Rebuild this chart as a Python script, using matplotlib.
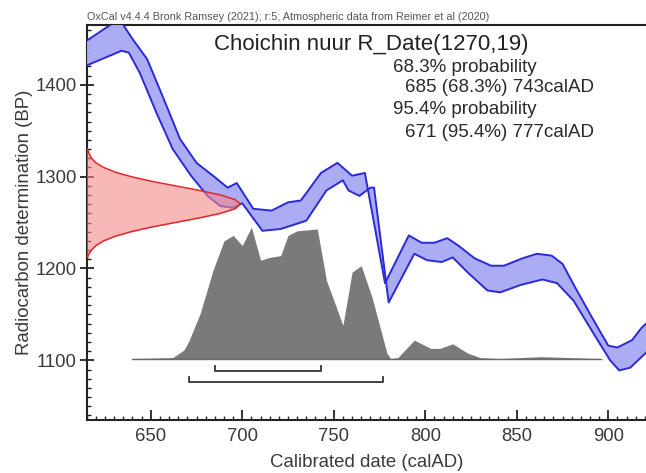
import matplotlib
matplotlib.use("Agg")
import matplotlib.pyplot as plt
from matplotlib.ticker import MultipleLocator

plt.rcParams['font.family'] = ['Liberation Sans', 'DejaVu Sans']

# calibration curve (IntCal20, 1 sigma envelope)
cal_x_hi = [615, 630, 634, 640, 648, 657, 666, 675, 684, 692, 697, 706, 716, 725,
            732, 743, 752, 760, 767, 778, 791, 798, 805, 812, 818, 827, 836, 843,
            853, 861, 869, 875, 882, 891, 900, 905, 913, 918, 925]
cal_y_hi = [1448, 1468, 1468, 1450, 1428, 1385, 1341, 1315, 1301, 1288, 1293, 1265,
            1263, 1272, 1274, 1304, 1315, 1301, 1304, 1184, 1236, 1228, 1228, 1233,
            1225, 1211, 1203, 1203, 1211, 1216, 1214, 1205, 1179, 1147, 1116, 1114,
            1122, 1135, 1148]
cal_x_lo = [615, 634, 638, 644, 653, 662, 672, 681, 688, 695, 700, 711, 721, 735,
            746, 755, 758, 764, 770, 772, 780, 794, 801, 809, 815, 823, 834, 841,
            852, 864, 872, 881, 892, 901, 906, 912, 921, 925]
cal_y_lo = [1421, 1437, 1435, 1413, 1370, 1330, 1301, 1279, 1268, 1266, 1271, 1241,
            1243, 1252, 1285, 1296, 1285, 1279, 1288, 1288, 1163, 1216, 1209, 1207,
            1212, 1196, 1176, 1174, 1182, 1188, 1184, 1165, 1129, 1100, 1089, 1092,
            1109, 1115]

# radiocarbon measurement R_Date(1270,19), drawn against the y axis
rc_bp = [1212, 1215, 1220, 1225, 1230, 1235, 1240, 1245, 1250, 1255, 1260, 1265,
         1270, 1275, 1280, 1285, 1290, 1295, 1300, 1305, 1310, 1315, 1320, 1325, 1330]
rc_width = [0.5, 0.9, 2.6, 5.1, 9.2, 15.4, 24.2, 35.3, 48.3, 61.5, 73.1, 81.1,
            84, 81.1, 73.1, 61.5, 48.3, 35.3, 24.2, 15.4, 9.2, 5.1, 2.6, 1.3, 0.5]

# calibrated probability distribution
prob_x = [640, 662, 668, 670, 671, 677, 684, 690, 695, 700, 705, 710, 715, 721,
          725, 730, 741, 746, 755, 760, 765, 771, 779, 781, 785, 794, 803, 808,
          815, 823, 830, 841, 852, 863, 879, 896]
prob_y = [1102, 1103, 1111, 1118, 1122, 1151, 1198, 1230, 1236, 1225, 1245, 1209,
          1212, 1214, 1236, 1241, 1243, 1187, 1138, 1196, 1203, 1168, 1108, 1102,
          1103, 1122, 1113, 1113, 1118, 1108, 1103, 1102, 1103, 1104, 1103, 1102]
prob_base = 1101

# highest probability ranges
range_68 = (685, 743)
range_95 = (671, 777)

fig = plt.figure(figsize=(6.46, 4.73), dpi=100)
ax = fig.add_axes([0.1342, 0.112, 0.8658, 0.835])

# calibrated distribution (grey)
ax.fill_between(prob_x, prob_base, prob_y, color='#7a7a7a', lw=0, zorder=2)
ax.plot([prob_x[0], prob_x[-1]], [prob_base, prob_base], color='#6a6a6a', lw=1, zorder=2)

# calibration curve band
ax.fill(cal_x_hi + cal_x_lo[::-1], cal_y_hi + cal_y_lo[::-1],
        color='#a8a8f4', lw=0, zorder=3, alpha=0.95)
ax.plot(cal_x_hi, cal_y_hi, color='#2a2ad8', lw=1.4, zorder=4)
ax.plot(cal_x_lo, cal_y_lo, color='#2a2ad8', lw=1.4, zorder=4)

# measurement gaussian
x0 = 615
rc_x = [x0 + w for w in rc_width]
ax.fill_betweenx(rc_bp, x0, rc_x, color='#f58a8a', alpha=0.6, lw=0, zorder=5)
ax.plot(rc_x, rc_bp, color='#e02828', lw=1.1, zorder=6)

# range brackets
for (a, b), yb in [(range_68, 1088.5), (range_95, 1076)]:
    ax.plot([a, a, b, b], [yb + 5.5, yb, yb, yb + 5.5], color='#333333', lw=1.3, zorder=6)

ax.set_xlim(615, 920.6)
ax.set_ylim(1035, 1465)

ax.xaxis.set_major_locator(MultipleLocator(50))
ax.xaxis.set_minor_locator(MultipleLocator(5))
ax.yaxis.set_major_locator(MultipleLocator(100))
ax.yaxis.set_minor_locator(MultipleLocator(10))
ax.tick_params(which='major', colors='#222222', labelsize=13.3, labelcolor='#3a3a3a',
               top=False, right=False, width=1.3)
ax.tick_params(axis='x', which='major', direction='in', length=7, pad=6)
ax.tick_params(axis='y', which='major', direction='inout', length=10, pad=2)
ax.tick_params(which='minor', direction='in', length=3, width=1, colors='#222222',
               top=False, right=False)

for s in ['left', 'bottom', 'top']:
    ax.spines[s].set_linewidth(1.5)
    ax.spines[s].set_color('#222222')
ax.spines['right'].set_visible(False)

ax.set_xlabel('Calibrated date (calAD)', fontsize=13.4, color='#3a3a3a', labelpad=6)
ax.set_ylabel('Radiocarbon determination (BP)', fontsize=13.4, color='#3a3a3a', labelpad=2)

fig.text(0.1342, 0.953, 'OxCal v4.4.4 Bronk Ramsey (2021); r:5; Atmospheric data from Reimer et al (2020)',
         fontsize=7.8, color='#555555', ha='left', va='bottom')

fig.text(0.575, 0.905, 'Choichin nuur R_Date(1270,19)',
         fontsize=16, color='#222222', ha='center', va='center')
stats = [('68.3% probability', 0.608, 67), ('685 (68.3%) 743calAD', 0.627, 88),
         ('95.4% probability', 0.608, 110), ('671 (95.4%) 777calAD', 0.627, 132)]
for txt, xf, ypx in stats:
    fig.text(xf, 1 - ypx / 473, txt, fontsize=13.5, color='#2a2a2a', ha='left', va='center')

fig.savefig('out.png', dpi=100)
